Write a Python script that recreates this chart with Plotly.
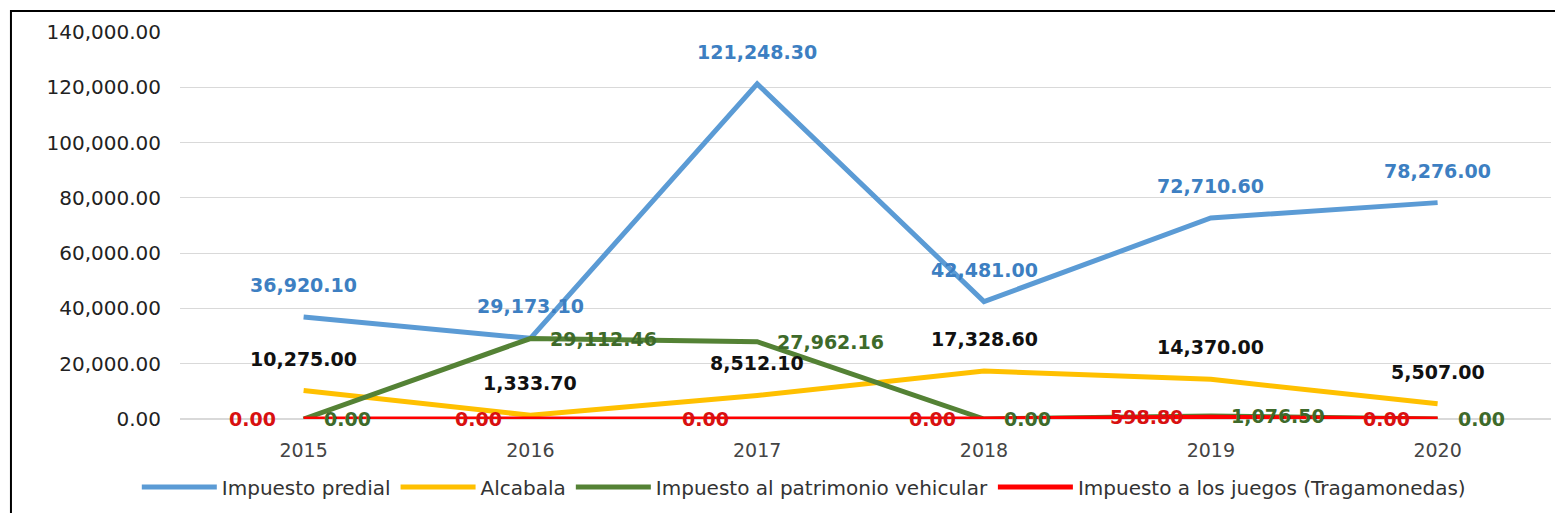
import plotly.graph_objects as go

years = ["2015", "2016", "2017", "2018", "2019", "2020"]
predial = [36920.10, 29173.10, 121248.30, 42481.00, 72710.60, 78276.00]
alcabala = [10275.00, 1333.70, 8512.10, 17328.60, 14370.00, 5507.00]
vehicular = [0.00, 29112.46, 27962.16, 0.00, 1076.50, 0.00]
juegos = [0.00, 0.00, 0.00, 0.00, 598.80, 0.00]

# name, values, line colour, label colour, label placement
series = [
    ("Impuesto predial", predial, "#5B9BD5", "#3D7FC2", "top"),
    ("Alcabala", alcabala, "#FFC000", "#111111", "top"),
    ("Impuesto al patrimonio vehicular", vehicular, "#548235", "#3E6A2A", "right"),
    ("Impuesto a los juegos (Tragamonedas)", juegos, "#FF0000", "#D81010", "left"),
]

fig = go.Figure()
annotations = []
for name, vals, color, lab_color, pos in series:
    fig.add_trace(go.Scatter(
        x=years, y=vals, name=name, mode="lines",
        line=dict(color=color, width=5),
    ))
    # category axis: annotations use the category index
    for i, v in enumerate(vals):
        a = dict(x=i, y=v, text=f"<b>{v:,.2f}</b>", showarrow=False,
                 font=dict(family="DejaVu Sans", size=19, color=lab_color))
        if pos == "top":
            a.update(yshift=32)
        elif pos == "right":
            a.update(xanchor="left", xshift=18)
        else:
            a.update(xanchor="right", xshift=-26)
        annotations.append(a)

fig.update_layout(
    width=1547, height=505,
    paper_bgcolor="white", plot_bgcolor="white",
    margin=dict(l=172, r=4, t=24, b=94),
    annotations=annotations,
    showlegend=True,
    legend=dict(orientation="h", x=0.455, xanchor="center", y=-0.176, yanchor="middle",
                font=dict(family="DejaVu Sans", size=20, color="#333333"),
                itemwidth=75),
    xaxis=dict(type="category", range=[-0.545, 5.5], showgrid=False, showline=False,
               ticks="", ticklabelstandoff=18,
               tickfont=dict(family="DejaVu Sans", size=19, color="#444444")),
    yaxis=dict(range=[0, 140000], dtick=20000, tickformat=",.2f", showgrid=True,
               gridcolor="#D9D9D9", gridwidth=1, zeroline=True, zerolinecolor="#D9D9D9",
               ticks="", ticklabelstandoff=18,
               tickfont=dict(family="DejaVu Sans", size=20, color="#222222")),
    shapes=[dict(type="rect", xref="paper", yref="paper",
                 x0=-0.1233, x1=1.05, y0=-0.4, y1=1.0543,
                 line=dict(color="black", width=2), fillcolor="rgba(0,0,0,0)")],
)

fig.write_html("out.html")
